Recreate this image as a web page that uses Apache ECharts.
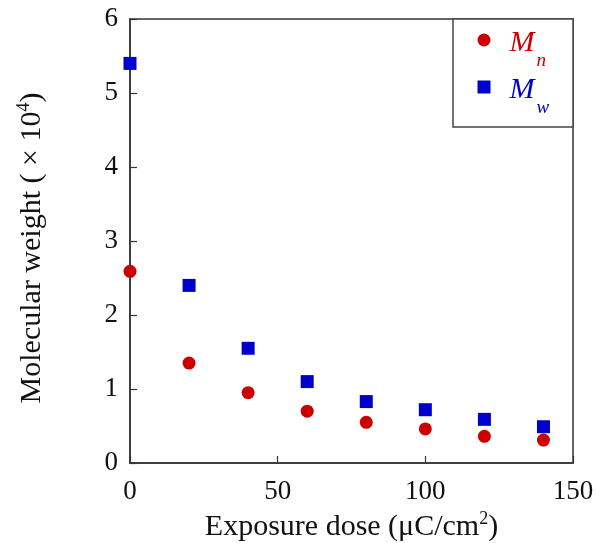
<!DOCTYPE html>
<html>
<head>
<meta charset="utf-8">
<script src="https://cdn.jsdelivr.net/npm/echarts@6/dist/echarts.min.js"></script>
<style>
  html, body { margin: 0; padding: 0; background: #fff; }
  #chart { width: 606px; height: 543px; }
</style>
</head>
<body>
<div id="chart"></div>
<script>
// Exposure dose (µC/cm²) and molecular weights (×10^4)
const doses = [0, 20, 40, 60, 80, 100, 120, 140];
const mnValues = [2.59, 1.35, 0.95, 0.70, 0.55, 0.46, 0.36, 0.31];
const mwValues = [5.40, 2.40, 1.55, 1.10, 0.83, 0.72, 0.59, 0.49];
const xTicks = [0, 50, 100, 150];
const yTicks = [0, 1, 2, 3, 4, 5, 6];

const FONT = '"Liberation Serif", "Times New Roman", serif';
const RED = '#cc0000';
const BLUE = '#0000cc';
const AXIS = '#333';

const pairs = vals => doses.map((d, i) => [d, vals[i]]);

const chart = echarts.init(document.getElementById('chart'), null, { renderer: 'canvas' });

const titleRich = {
  t: { fontSize: 30, fontFamily: FONT, color: '#111', lineHeight: 34 },
  s: { fontSize: 18, fontFamily: FONT, color: '#111', lineHeight: 18, verticalAlign: 'top' }
};

// italic symbol with a subscript that hangs below the baseline
const legendRich = (color) => ({
  m: { fontSize: 30, fontFamily: FONT, fontStyle: 'italic', color, lineHeight: 30,
       verticalAlign: 'top', padding: [3, 0, 0, 14] },
  s: { fontSize: 19, fontFamily: FONT, fontStyle: 'italic', color, lineHeight: 19,
       verticalAlign: 'top', padding: [26.5, 0, 0, 2] }
});
const redRich = legendRich(RED);
const blueRich = legendRich(BLUE);

chart.setOption({
  animation: false,
  backgroundColor: '#fff',
  textStyle: { fontFamily: FONT },
  grid: {
    left: 130, right: 33, top: 19, bottom: 80,
    outerBoundsMode: 'none',
    containLabel: false,
    show: true, borderColor: AXIS, borderWidth: 1.5, backgroundColor: 'transparent'
  },
  xAxis: {
    type: 'value',
    min: xTicks[0], max: xTicks[xTicks.length - 1], interval: 50,
    axisLine: { show: true, lineStyle: { color: AXIS, width: 1.5 } },
    axisTick: { show: true, inside: true, length: 7, lineStyle: { color: AXIS, width: 1.2 } },
    splitLine: { show: false },
    axisLabel: { color: '#111', fontSize: 27, fontFamily: FONT, margin: 15 },
    name: '{t|Exposure dose (μC/cm}{s|2}{t|)}',
    nameLocation: 'middle',
    nameGap: 46,
    nameTextStyle: { rich: titleRich }
  },
  yAxis: {
    type: 'value',
    min: yTicks[0], max: yTicks[yTicks.length - 1], interval: 1,
    axisLine: { show: true, lineStyle: { color: AXIS, width: 1.5 } },
    axisTick: { show: true, inside: true, length: 7, lineStyle: { color: AXIS, width: 1.2 } },
    splitLine: { show: false },
    axisLabel: { color: '#111', fontSize: 27, fontFamily: FONT, margin: 12 },
    name: '{t|Molecular weight ( × 10}{s|4}{t|)}',
    nameLocation: 'middle',
    nameGap: 81,
    nameRotate: 90,
    nameTextStyle: { rich: titleRich, padding: [0, 14, 0, 0] }
  },
  graphic: [{
    type: 'rect',
    z: 5,
    shape: { x: 453, y: 19, width: 120, height: 108 },
    style: { fill: '#fff', stroke: '#444', lineWidth: 1.5 }
  }],
  legend: {
    orient: 'vertical',
    left: 477.5, top: 25,
    padding: 0,
    itemGap: 1.5,
    itemWidth: 13, itemHeight: 13,
    z: 10,
    data: [
      { name: 'Mn', icon: 'circle' },
      { name: 'Mw', icon: 'rect' }
    ],
    formatter: name => name === 'Mn' ? '{mr|M}{sr|n}' : '{mb|M}{sb|w}',
    textStyle: {
      rich: { mr: redRich.m, sr: redRich.s, mb: blueRich.m, sb: blueRich.s }
    }
  },
  series: [
    {
      name: 'Mn',
      type: 'scatter',
      symbol: 'circle',
      symbolSize: 13,
      itemStyle: { color: RED, opacity: 1 },
      data: pairs(mnValues),
      z: 3
    },
    {
      name: 'Mw',
      type: 'scatter',
      symbol: 'rect',
      symbolSize: 13,
      itemStyle: { color: BLUE, opacity: 1 },
      data: pairs(mwValues),
      z: 3
    }
  ]
});
</script>
</body>
</html>
